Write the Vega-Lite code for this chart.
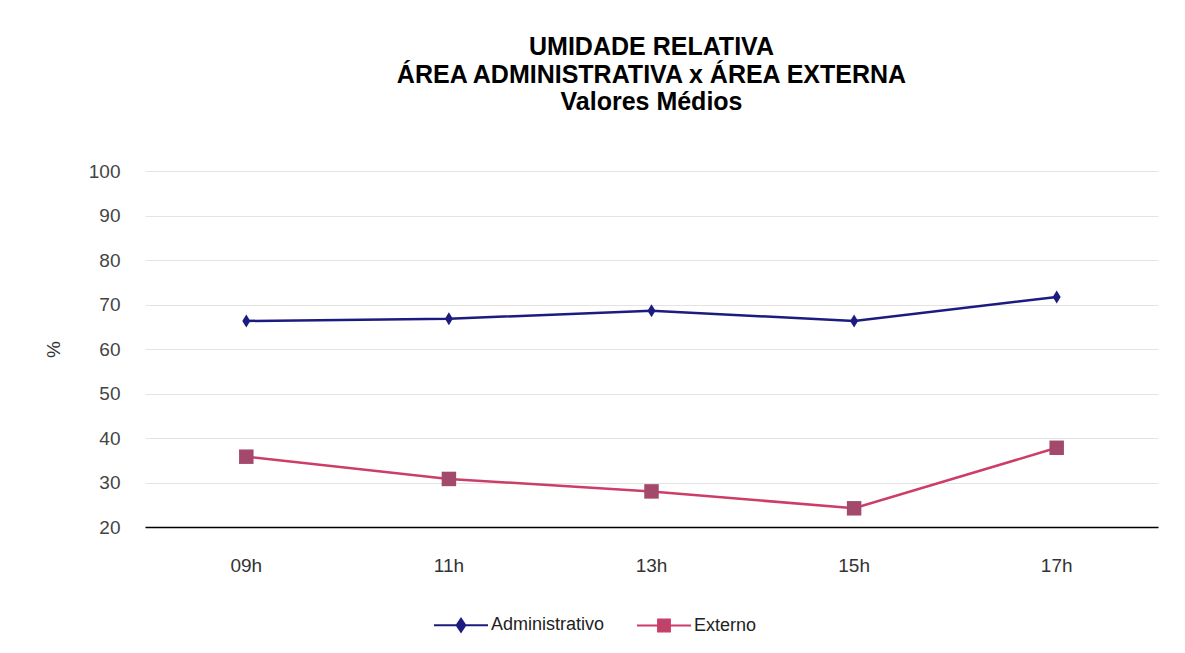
{
  "$schema": "https://vega.github.io/schema/vega-lite/v6.json",
  "width": 1013,
  "height": 356,
  "autosize": "none",
  "padding": {"left": 145, "top": 171, "right": 27, "bottom": 126},
  "background": "white",
  "config": {
    "view": {"stroke": null},
    "font": "Liberation Sans"
  },
  "title": {
    "text": ["UMIDADE RELATIVA", "ÁREA ADMINISTRATIVA x ÁREA EXTERNA", "Valores Médios"],
    "font": "Liberation Sans",
    "fontSize": 25,
    "fontWeight": "bold",
    "color": "#000000",
    "lineHeight": 27.5,
    "offset": 47,
    "anchor": "middle",
    "dx": 0
  },
  "data": {
    "values": [
      {"hora": "09h", "serie": "Administrativo", "valor": 66.3},
      {"hora": "11h", "serie": "Administrativo", "valor": 66.8},
      {"hora": "13h", "serie": "Administrativo", "valor": 68.6},
      {"hora": "15h", "serie": "Administrativo", "valor": 66.3},
      {"hora": "17h", "serie": "Administrativo", "valor": 71.7},
      {"hora": "09h", "serie": "Externo", "valor": 35.8},
      {"hora": "11h", "serie": "Externo", "valor": 30.8},
      {"hora": "13h", "serie": "Externo", "valor": 28.0},
      {"hora": "15h", "serie": "Externo", "valor": 24.2},
      {"hora": "17h", "serie": "Externo", "valor": 37.8}
    ]
  },
  "encoding": {
    "x": {
      "field": "hora",
      "type": "ordinal",
      "scale": {"type": "band", "paddingInner": 0, "paddingOuter": 0},
      "axis": {
        "title": null,
        "labelAngle": 0,
        "labelFontSize": 19,
        "labelColor": "#333333",
        "labelPadding": 29,
        "ticks": false,
        "grid": false,
        "domainColor": "#000000",
        "domainWidth": 1.5
      }
    },
    "y": {
      "field": "valor",
      "type": "quantitative",
      "scale": {"domain": [20, 100], "nice": false, "zero": false},
      "axis": {
        "title": "%",
        "titleFontSize": 19,
        "titleFontWeight": "normal",
        "titleColor": "#333333",
        "titleAngle": -90,
        "titlePadding": 25,
        "values": [20, 30, 40, 50, 60, 70, 80, 90, 100],
        "labelFontSize": 19,
        "labelColor": "#444444",
        "labelPadding": 25,
        "ticks": false,
        "domain": false,
        "grid": true,
        "gridColor": "#e3e3e3",
        "gridWidth": 1
      }
    }
  },
  "layer": [
    {
      "mark": {"type": "line", "strokeWidth": 2.5},
      "encoding": {
        "color": {
          "field": "serie",
          "type": "nominal",
          "scale": {"domain": ["Administrativo", "Externo"], "range": ["#1c1c80", "#cc3d68"]},
          "legend": {
            "title": null,
            "orient": "none",
            "direction": "horizontal",
            "legendX": 288,
            "legendY": 426,
            "labelFontSize": 18,
            "labelColor": "#222222",
            "symbolSize": 2916,
            "symbolStrokeWidth": 2,
            "columnPadding": 28,
            "labelOffset": 2,
            "encode": {
              "symbols": {
                "update": {
                  "shape": {"signal": "datum.value === 'Administrativo' ? 'M-1,0H1M0,-0.24L0.16,0L0,0.24L-0.16,0Z' : 'M-1,0H1M-0.22,-0.22H0.22V0.22H-0.22Z'"},
                  "fill": {"signal": "datum.value === 'Administrativo' ? '#1c1c80' : '#b8456c'"},
                  "stroke": {"signal": "datum.value === 'Administrativo' ? '#1c1c80' : '#cc3d68'"},
                  "strokeWidth": {"value": 2},
                  "opacity": {"value": 1}
                }
              }
            }
          }
        }
      }
    },
    {
      "transform": [{"filter": "datum.serie === 'Administrativo'"}],
      "mark": {"type": "point", "filled": true, "opacity": 1, "strokeWidth": 0, "shape": "M0,-1.3L0.8,0L0,1.3L-0.8,0Z", "size": 100, "color": "#1c1c80"}
    },
    {
      "transform": [{"filter": "datum.serie === 'Externo'"}],
      "mark": {"type": "point", "filled": true, "opacity": 1, "strokeWidth": 0, "shape": "square", "size": 210, "color": "#a34a6c"}
    }
  ]
}
